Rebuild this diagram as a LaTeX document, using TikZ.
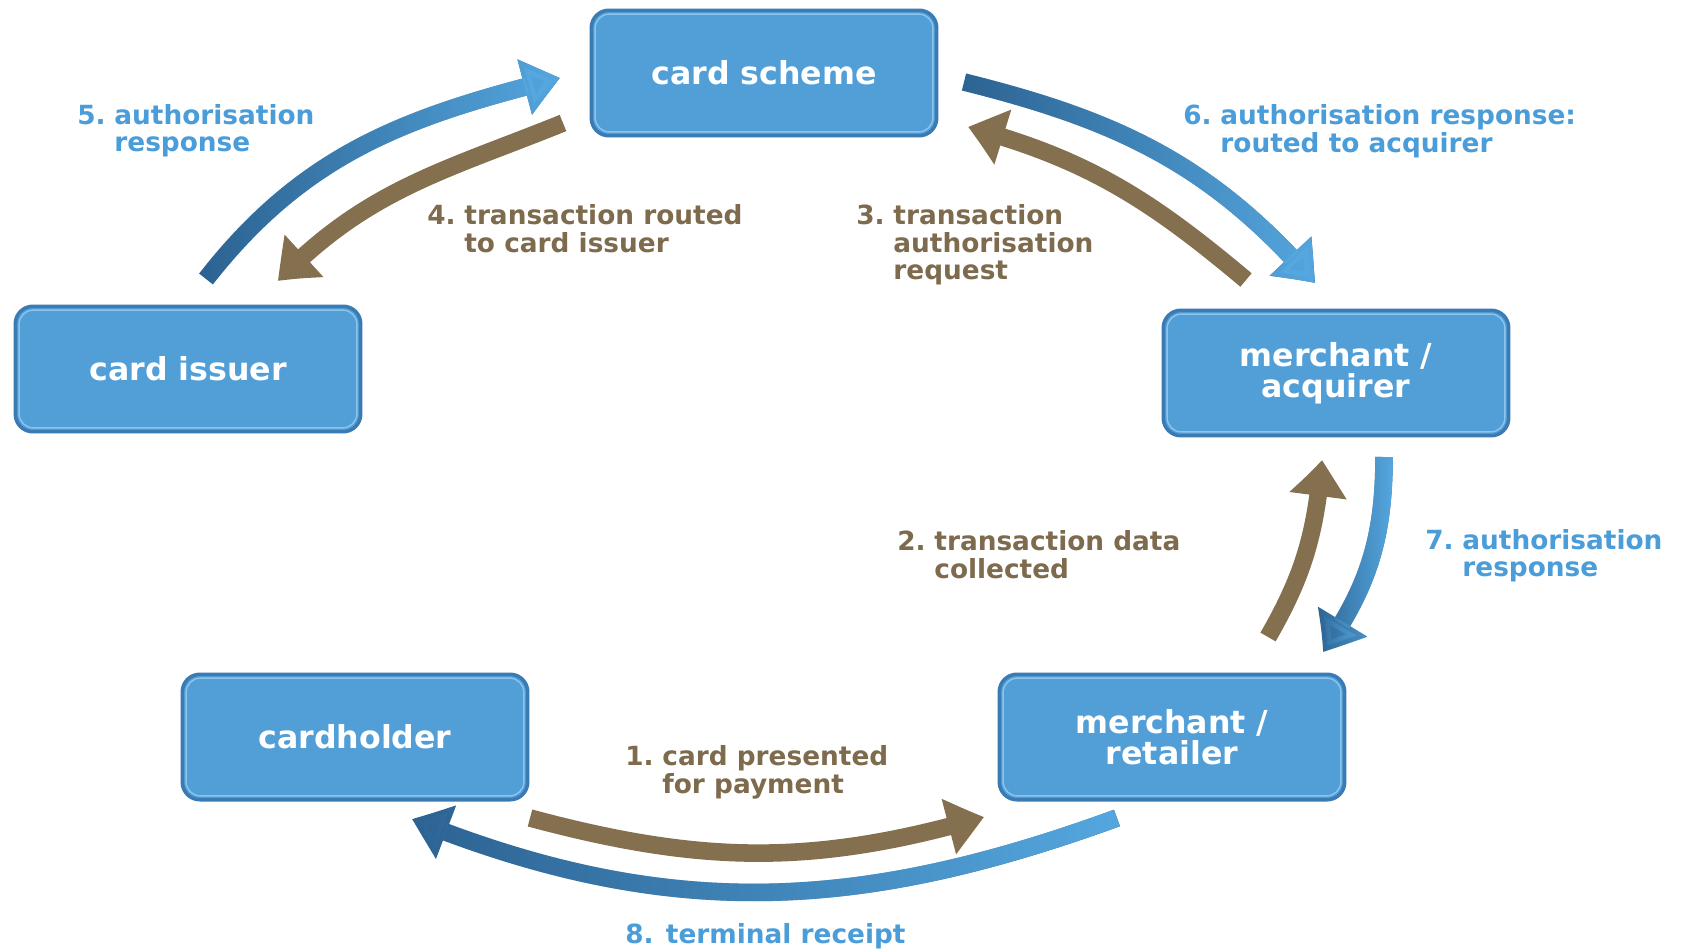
\documentclass[tikz,border=0pt]{standalone}
\usepackage{fontspec}
\setmainfont{DejaVu Sans}
\usetikzlibrary{arrows.meta,bending,fadings}
\definecolor{boxfill}{HTML}{529FD7}
\definecolor{boxedge}{HTML}{3A7BB3}
\definecolor{boxhl}{HTML}{8DC4EC}
\definecolor{bluedark}{HTML}{2C6291}
\definecolor{bluelight}{HTML}{55A8E0}
\definecolor{brownarr}{HTML}{84704F}
\definecolor{bluetext}{HTML}{4A9DD8}
\definecolor{browntext}{HTML}{7E6A4C}
\tikzfading[name=fadelr, left color=transparent!100, right color=transparent!0]
\newcommand{\lbl}[2]{\begin{tabular}[t]{@{}l@{\hspace{0.33em}}l@{}}#1 & #2\end{tabular}}
\begin{document}
\begin{tikzpicture}[x=0.02cm,y=0.02cm,
  box/.style={draw=boxedge, line width=2pt, fill=boxfill, rounded corners=10pt,
    minimum width=6.91cm, minimum height=2.51cm, text=white, align=center,
    font=\fontsize{18}{17.5}\selectfont\bfseries,
    path picture={\draw[boxhl, line width=0.8pt, rounded corners=8pt]
      ([shift={(2.2pt,-2.2pt)}]path picture bounding box.north west) rectangle
      ([shift={(-2.2pt,2.2pt)}]path picture bounding box.south east);}},
  band/.style={line width=10pt, -{Triangle[width=31pt,length=21pt,bend]}},
  brownband/.style={band, draw=brownarr},
  bluebase/.style={band, draw=bluedark},
  bluetop/.style={band, draw=bluelight, path fading=fadelr},
  lblue/.style={anchor=base west, inner sep=0pt, text=bluetext, font=\fontsize{15}{15.5}\selectfont\bfseries},
  lbrown/.style={anchor=base west, inner sep=0pt, text=browntext, font=\fontsize{15}{15.5}\selectfont\bfseries}
]
\useasboundingbox (0,0) rectangle (1688,-950);

% boxes
\node[box] (scheme) at (764,-73) {card scheme};
\node[box] (issuer) at (188,-369) {card issuer};
\node[box] (acquirer) at (1336,-373) {merchant /\\acquirer};
\node[box] (holder) at (355,-737) {cardholder};
\node[box] (retailer) at (1172,-737) {merchant /\\retailer};

% arrow end points
\coordinate (a5s) at (206,-279); \coordinate (a5e) at (560,-78);
\coordinate (a4s) at (563,-123); \coordinate (a4e) at (278,-281);
\coordinate (a6s) at (964,-82);  \coordinate (a6e) at (1315,-283);
\coordinate (a3s) at (1246,-280); \coordinate (a3e) at (968,-127);
\coordinate (a2s) at (1268,-637); \coordinate (a2e) at (1322,-460);
\coordinate (a7s) at (1384,-457); \coordinate (a7e) at (1323,-652);
\coordinate (a1s) at (530,-818); \coordinate (a1e) at (984,-817);
\coordinate (a8s) at (1117,-818); \coordinate (a8e) at (412,-819);

% brown arrows
\draw[brownband] (a4s) to[out=202,in=46] (a4e);
\draw[brownband] (a3s) to[out=140,in=-15] (a3e);
\draw[brownband] (a2s) to[out=60,in=-95] (a2e);
\draw[brownband] (a1s) to[out=-15,in=196] (a1e);

% blue arrows (gradient)
\draw[bluebase] (a5s) to[out=52,in=194] (a5e);
\draw[bluetop]  (a5s) to[out=52,in=194] (a5e);
\draw[bluebase] (a6s) to[out=-14,in=131] (a6e);
\draw[bluetop]  (a6s) to[out=-14,in=131] (a6e);
\draw[bluebase] (a7s) to[out=-90,in=55] (a7e);
\draw[bluetop]  (a7s) to[out=-90,in=55] (a7e);
\draw[bluebase] (a8s) to[out=200,in=-22] (a8e);
\draw[bluetop]  (a8s) to[out=200,in=-22] (a8e);

% labels
\node[lblue]  (l5) at (77,-124)   {\lbl{5.}{authorisation\\ & response}};
\node[lbrown] (l4) at (427,-224)  {\lbl{4.}{transaction routed\\ & to card issuer}};
\node[lbrown] (l3) at (856,-224)  {\lbl{3.}{transaction\\ & authorisation\\ & request}};
\node[lblue]  (l6) at (1183,-124) {\lbl{6.}{authorisation response:\\ & routed to acquirer}};
\node[lbrown] (l2) at (897,-550)  {\lbl{2.}{transaction data\\ & collected}};
\node[lblue]  (l7) at (1425,-549) {\lbl{7.}{authorisation\\ & response}};
\node[lbrown] (l1) at (625,-765)  {\lbl{1.}{card presented\\ & for payment}};
\node[lblue]  (l8) at (625,-943)  {8. terminal receipt};
\end{tikzpicture}
\end{document}
